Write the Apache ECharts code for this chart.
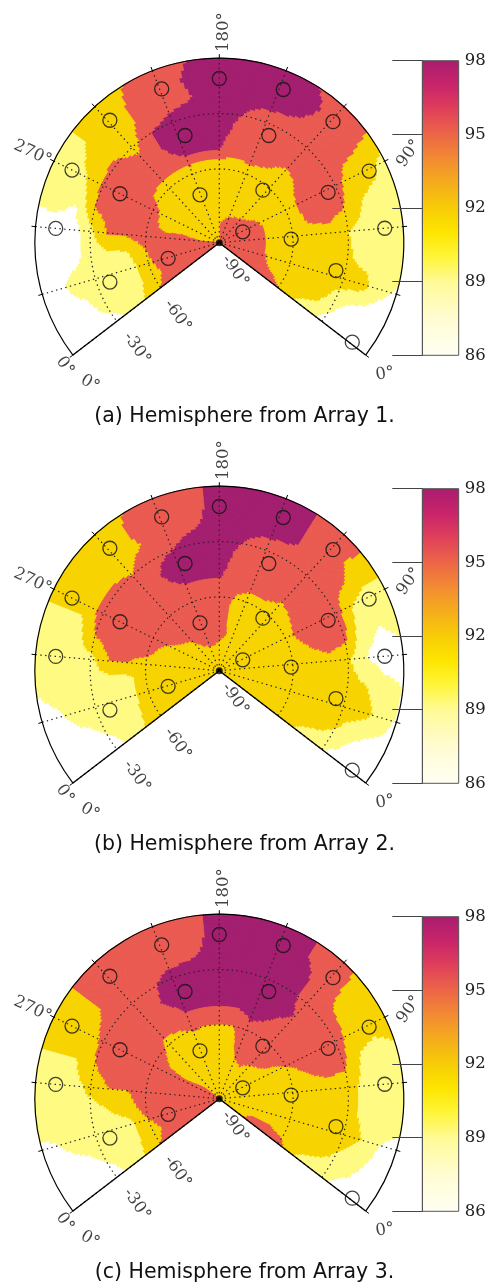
<!DOCTYPE html>
<html><head><meta charset="utf-8">
<script src="https://cdn.jsdelivr.net/npm/echarts@6/dist/echarts.min.js"></script>
<style>html,body{margin:0;padding:0;background:#fff}#c{width:489px;height:1288px}</style>
</head><body><div id="c"></div>
<script>
// ---------------- data ----------------
const AZ_NODES = [0,15,30,45,60,75,90,105,120,135,150,165,180,195,210,225,240,255,270,285,300,315,330,345,360];
const EL_NODES = [0,-10,-20,-30,-40,-50,-60,-70,-80,-90,-100];

const GRID_A = [
 [87.5,87.5,88.5,90.5,90.5,90.5,90.5,95,96.5,97,97.5,97.5,97.5,97,96.5,95,93.5,92,90.5,90,87.5,87.5,87.5,87.5,87.5],
 [87.5,87.5,90,90.5,90.5,90.5,93,95.5,96.5,97.5,97.5,97.5,97.5,97.2,96.5,95.5,93.5,92,90.5,90.5,87.5,87.5,88,87.5,87.5],
 [87.5,88,93.5,90.5,90.5,92,93.5,96,96.5,97,97.5,97.5,97.5,97,96.5,95.5,93.5,93.5,92,89,87.5,87.5,90.5,88,87.5],
 [88,90,93.5,92.5,92,95,96,96.5,96.5,96.5,96,97,97.5,97.5,97.5,97,94,95.5,95.5,95,91,90.5,90.5,90.5,88],
 [90,93.5,93.5,93.5,94,96,96.5,96.5,96.5,96.5,96.5,96.5,97.5,97.5,97.5,97,96,96.5,96.5,96.5,95.5,91.5,90.5,90.5,90],
 [92,93.5,93.5,93.5,94,95.5,96,95,94,95.5,96.5,96,97,97,97,96.8,96.5,96.5,96.5,96.5,95.5,92,90.5,91,92],
 [95,93.5,93.5,93.5,93.5,93.5,93.5,93.5,93.5,93.5,93.5,93,93,93,93.5,93,93.5,94,96,96.5,96.5,95,94.5,93.5,95],
 [96.5,95,94,93.5,93.5,93.5,93.5,93.5,93.5,93.5,93.5,93.5,93.5,93.5,93.5,93.5,93.5,93.5,93.5,94,96,96.5,96.5,96.5,96.5],
 [96.5,96.5,96.5,96.5,96.5,96.5,96,95,94.5,94,93.5,93.5,93.5,93.5,93.5,93.5,93.5,93.5,93.5,94.5,96,96.5,96.5,96.5,96.5],
 [96.5,96.5,96.5,96.5,96.5,96.5,96.5,96.5,96.5,96.5,96.5,95.5,95,93.5,93.5,93.5,93.5,93.5,93.5,94,95,96.5,96.5,96.5,96.5],
 [96.5,96.5,96.5,96.5,96.5,96.5,96.5,96.5,96.5,96.5,96.5,95.5,95,93.5,93.5,93.5,93.5,93.5,93.5,94,95,96.5,96.5,96.5,96.5]
];
const GRID_B = [
 [87.5,87.5,88.5,89,87.5,90,90.5,94.5,96.5,97,97.5,97.5,97.5,96.5,96.5,95,93.5,93.5,93,90.5,90.5,89.5,87.5,87.5,87.5],
 [87.5,88,91.5,90,87.5,89,90.5,94,96.5,97,97.5,97.5,97.5,96.5,96.5,95.5,93.5,93.5,93,90.5,90.5,90.5,88.5,87.5,87.5],
 [87.5,89.5,93,92,89,90,92,96,96.5,97,97.5,97.5,97.5,96.8,96.5,95,93.5,93.5,93,90.5,90.5,90.5,90.5,88,87.5],
 [89,92,93.5,93,92.5,96,96.5,96.5,96.5,96.5,96,97,97.5,97.5,97,96.8,95,96,96.5,95,91,90.5,90.5,89.5,87.5],
 [90,93.5,93.5,93.5,94,96.5,96.5,96.5,96.5,96.5,96.5,96.5,97.5,97.5,97.5,97,96.5,96.5,96.5,96.5,95,90.5,90.5,90.5,90],
 [92,93.5,93.5,93.5,93.5,95,96.5,95.5,95,96.5,96.5,96.5,97,97,97,96.8,96.5,96.5,96.5,96.5,95,91,91,91.5,92],
 [93.5,93.5,93.5,93.5,93.5,93.5,94,93.5,93.5,93.5,93.5,95,96,96.5,96.5,96.5,96.5,96.5,96.5,96,94,93.5,93.5,93.5,93.5],
 [93.5,93.5,93.5,93.5,93.5,93.5,93.5,93.5,93.5,93.5,93.5,94.5,96.5,96.5,96.5,96.5,96.5,96.5,95,93.5,93.5,93.5,93.5,93.5,93.5],
 [93.5,93.5,93.5,93.5,93.5,93.5,93.5,93.5,93.5,93.5,93.5,95,96,96.5,96.5,96,95,94,93.5,93.5,93.5,93.5,93.5,93.5,93.5],
 [93.5,93.5,93.5,93.5,93.5,93.5,93.5,93.5,93.5,93.5,93.5,93.5,93.5,94,94,94,93.5,93.5,93.5,93.5,93.5,93.5,93.5,93.5,93.5],
 [93.5,93.5,93.5,93.5,93.5,93.5,93.5,93.5,93.5,93.5,93.5,93.5,93.5,93.5,93.5,93.5,93.5,93.5,93.5,93.5,93.5,93.5,93.5,93.5,93.5]
];
const GRID_C = [
 [87.5,87.5,88,90.5,90.5,91.5,93.5,93,96.5,97,97.5,97.5,97.5,96.5,96.5,96.5,96.5,95,93.5,92,90.5,90.5,88.5,87.5,87.5],
 [87.5,88,89,90.5,90.5,90,93.5,93.5,96.5,97,97.5,97.5,97.5,96.5,96.5,96.5,96.5,95,93.5,92,90.5,90.5,89,87.5,87.5],
 [88,90,92,91,90.5,91.5,93.5,94.5,96.5,97.5,97.5,97.5,97.5,96.8,96.5,96.5,96.5,95,93.5,92,90.5,90.5,90.5,88,87.5],
 [89.5,91.5,93.5,93,93.5,95.5,96.5,96.5,96.5,97.5,97.5,97.5,97.5,97.5,97.5,96.8,96.5,96.5,95.5,95,93,90.5,90.5,89.5,87.5],
 [90,93.5,93.5,93.5,93.5,96,96.5,96.5,97,97.5,97.5,97.5,97.5,97.5,97.5,97,96.5,96.5,96.5,96.5,95,92,90.5,90.5,90],
 [92,93.5,93.5,93.5,93.5,95,96.5,96.5,96.5,97,97.5,97,97,97,97,96.5,96.5,96.5,96.5,96.5,95,93.5,91,91.5,92],
 [96,94,93.5,93.5,93.5,93.5,95,96.5,96.5,96.5,96.5,95,95,95,95.2,94.5,94,96,96.5,96.5,96.5,96.5,95,93.5,95],
 [96.5,95,93.5,93.5,93.5,93.5,94,95.5,96.5,96.5,96.5,94,93.5,93.5,93.5,93.5,93.5,94,96,96.5,96.5,96.5,96.5,96.5,96.5],
 [96,95,93.5,93.5,93.5,93.5,93.5,93.5,94,95,94.5,93.5,93.5,93.5,93.5,93.5,93.5,93.5,95.5,96.5,96.5,96.5,96.5,96.5,96.5],
 [93.5,93.5,93.5,93.5,93.5,93.5,93.5,93.5,93.5,93.5,93.5,93.5,93.5,93.5,93.5,93.5,94.5,95,96.5,96.5,96.5,96.5,96.5,96.5,96.5],
 [93.5,93.5,93.5,93.5,93.5,93.5,93.5,93.5,93.5,93.5,93.5,93.5,93.5,93.5,93.5,93.5,94.5,95,96.5,96.5,96.5,96.5,96.5,96.5,96.5]
];

// measurement points (azimuth, elevation)
const PT_AZ = [180,148,119,89,60,1,209,239,270,300,335,205,145,270,88,34,211,124,88,57,331];
const PT_EL = [-11,-10,-10,-10,-10,-10,-11,-11,-11,-11,-37,-39,-36,-40,-35,-35,-72,-63,-86,-61,-71];

const LEVELS = [89, 92, 95, 97];
const AZ_TICK_VALUES = [0, 90, 180, 270, 360];
const AZ_TICK_TEXT = ['0°', '90°', '180°', '270°', '0°'];
const EL_TICK_VALUES = [-90, -60, -30, 0];
const EL_TICK_TEXT = ['-90°', '-60°', '-30°', '0°'];
const EL_RINGS = [-60, -30];
const AZ_EDGES = [0, 360];
const EL_MIN = -100, EL_MAX = 0;
const CBAR_MIN = 86, CBAR_MAX = 98, CBAR_STEP = 3;
const CAPTIONS = ['(a) Hemisphere from Array 1.', '(b) Hemisphere from Array 2.', '(c) Hemisphere from Array 3.'];

// ---------------- styles / layout ----------------
const LEVEL_COLORS = ['#ffffff', '#fefa82', '#f7d300', '#ea5a50', '#a31e6f'];
const CBAR_STOPS = [
  [98,'#a91d6f'],[97,'#c8246a'],[96,'#e0405a'],[95,'#ec6547'],[94,'#f28a32'],[93,'#f5ad1c'],
  [92,'#f7cc06'],[91,'#fde600'],[90,'#fff53a'],[89,'#fffa96'],[87.5,'#fffcd2'],[86,'#fffff4']
];
const PANEL_DY = 428;
const CX = 219.3, CY0 = 242.7, R = 184.5;
const SERIF = 'DejaVu Serif';
const AZ_LABEL_LAYOUT = [
  {rotate: 10, offset: [15.8, 22]},
  {rotate: 55, offset: [20.1, 15.5]},
  {rotate: 90, offset: [26, 4]},
  {rotate: -25, offset: [-22.7, 1.7]},
  {rotate: -55, offset: [4.4, 12.9]}
];
const EL_LABEL_LAYOUT = [
  {rotate: -55, offset: [31.4, -15]},
  {rotate: -55, offset: [32.7, 2.4]},
  {rotate: -55, offset: [33.5, -0.8]},
  {rotate: -30, offset: [28.9, 16.1]}
];
const DOT = [1.4, 3.4];

function colorOf(v) {
  let k = 0;
  while (k < LEVELS.length && v >= LEVELS[k]) k++;
  return LEVEL_COLORS[k];
}

const GRIDS = [GRID_A, GRID_B, GRID_C];
const NA = AZ_NODES.length, NE = EL_NODES.length;
const SA = 10, SR = 8;

const polar = [], angleAxis = [], radiusAxis = [], grid = [], xAxis = [], yAxis = [], series = [], title = [];

GRIDS.forEach((G, p) => {
  const cy = CY0 + p * PANEL_DY;
  polar.push({center: [CX, cy], radius: [0, R]});
  angleAxis.push({
    polarIndex: p, type: 'value', min: 0, max: 360, interval: 30,
    startAngle: -37.5, endAngle: 217.5, clockwise: false, z: 5,
    axisLine: {show: true, lineStyle: {color: '#000', width: 1.2}},
    axisTick: {show: true, inside: false, length: 4, lineStyle: {color: '#000', width: 1}},
    axisLabel: {show: false},
    splitLine: {show: true, lineStyle: {color: '#222', width: 1.2, type: DOT}}
  });
  radiusAxis.push({polarIndex: p, type: 'value', min: EL_MIN, max: EL_MAX, show: false,
    axisLine: {show: false}, axisTick: {show: false}, axisLabel: {show: false}, splitLine: {show: false}});

  // contour field
  const nodes = [];
  EL_NODES.forEach((e) => AZ_NODES.forEach((a) => nodes.push([e, a])));
  series.push({
    type: 'custom', coordinateSystem: 'polar', polarIndex: p, z: 2, silent: true, clip: false,
    data: nodes,
    renderItem: function (params, api) {
      const idx = params.dataIndex;
      const i = Math.floor(idx / NA), j = idx % NA;
      if (i >= NE - 1 || j >= NA - 1) return null;
      const v00 = G[i][j], v01 = G[i][j + 1], v10 = G[i + 1][j], v11 = G[i + 1][j + 1];
      const e0 = EL_NODES[i], e1 = EL_NODES[i + 1], a0 = AZ_NODES[j], a1 = AZ_NODES[j + 1];
      const children = [];
      for (let s = 0; s < SR; s++) {
        const fy = (s + 0.5) / SR;
        const eA = e0 + (e1 - e0) * s / SR, eB = e0 + (e1 - e0) * (s + 1) / SR;
        let runStart = 0, runColor = null;
        for (let t = 0; t <= SA; t++) {
          let c = null;
          if (t < SA) {
            const fx = (t + 0.5) / SA;
            const v = (1 - fx) * (1 - fy) * v00 + fx * (1 - fy) * v01 + (1 - fx) * fy * v10 + fx * fy * v11;
            c = colorOf(v);
          }
          if (t === SA || c !== runColor) {
            if (runColor !== null) {
              const pts = [];
              for (let k = runStart; k <= t; k++) pts.push(api.coord([eA, a0 + (a1 - a0) * k / SA]));
              for (let k = t; k >= runStart; k--) pts.push(api.coord([eB, a0 + (a1 - a0) * k / SA]));
              children.push({type: 'polygon', shape: {points: pts},
                style: {fill: runColor, stroke: runColor, lineWidth: 1}});
            }
            runStart = t; runColor = c;
          }
        }
      }
      return {type: 'group', children: children};
    }
  });

  // dotted elevation rings
  EL_RINGS.forEach((e) => {
    const pts = [];
    for (let a = 0; a <= 360; a += 5) pts.push([e, a]);
    series.push({type: 'line', coordinateSystem: 'polar', polarIndex: p, data: pts, showSymbol: false,
      silent: true, z: 6, clip: false, lineStyle: {color: '#222', width: 1.2, type: DOT}});
  });
  // wedge edges (solid), drawn through the polar scales
  series.push({type: 'custom', coordinateSystem: 'polar', polarIndex: p, z: 7, silent: true, clip: false,
    data: AZ_EDGES.map((a) => [EL_MAX, a]),
    renderItem: function (params, api) {
      const a = api.value(1);
      const p0 = api.coord([EL_MIN, a]), p1 = api.coord([EL_MAX, a]);
      return {type: 'line', shape: {x1: p0[0], y1: p0[1], x2: p1[0], y2: p1[1]},
        style: {stroke: '#000', lineWidth: 1.4}};
    }});
  // center dot
  series.push({type: 'scatter', coordinateSystem: 'polar', polarIndex: p, data: [[EL_MIN, 0]], clip: false,
    symbolSize: 7, itemStyle: {color: '#000'}, z: 8, silent: true});
  // measurement points
  series.push({type: 'scatter', coordinateSystem: 'polar', polarIndex: p, clip: false,
    data: PT_EL.map((e, k) => [e, PT_AZ[k]]), symbol: 'circle', symbolSize: 14, z: 8, silent: true,
    itemStyle: {color: 'rgba(0,0,0,0)', borderColor: '#111', borderWidth: 1.3}});
  // azimuth labels
  series.push({type: 'scatter', coordinateSystem: 'polar', polarIndex: p, z: 9, silent: true, clip: false,
    symbolSize: 1, itemStyle: {color: 'rgba(0,0,0,0)'},
    data: AZ_TICK_VALUES.map((a, k) => ({value: [EL_MAX, a],
      label: {show: true, position: 'inside', formatter: AZ_TICK_TEXT[k],
        rotate: AZ_LABEL_LAYOUT[k].rotate, offset: AZ_LABEL_LAYOUT[k].offset,
        fontFamily: SERIF, fontSize: 16.5, color: '#111'}}))});
  // elevation labels
  series.push({type: 'scatter', coordinateSystem: 'polar', polarIndex: p, z: 9, silent: true, clip: false,
    symbolSize: 1, itemStyle: {color: 'rgba(0,0,0,0)'},
    data: EL_TICK_VALUES.map((e, k) => ({value: [e, 360],
      label: {show: true, position: 'inside', formatter: EL_TICK_TEXT[k],
        rotate: EL_LABEL_LAYOUT[k].rotate, offset: EL_LABEL_LAYOUT[k].offset,
        fontFamily: SERIF, fontSize: 16.5, color: '#111'}}))});

  // colorbar
  grid.push({left: 422.3, top: 60.7 + p * PANEL_DY, width: 36.4, height: 294.6});
  xAxis.push({gridIndex: p, type: 'value', min: 0, max: 1, show: false});
  yAxis.push({gridIndex: p, type: 'value', min: CBAR_MIN, max: CBAR_MAX, interval: CBAR_STEP,
    position: 'right', z: 5,
    axisLine: {show: true, lineStyle: {color: '#555', width: 1}},
    axisTick: {show: true, inside: true, length: 30, lineStyle: {color: '#444', width: 1}},
    axisLabel: {fontFamily: SERIF, fontSize: 16.5, color: '#222', margin: 6},
    splitLine: {show: false}});
  series.push({type: 'custom', coordinateSystem: 'cartesian2d', xAxisIndex: p, yAxisIndex: p, z: 2, silent: true,
    data: [[0, CBAR_MIN]],
    renderItem: function (params, api) {
      const pTop = api.coord([0, CBAR_MAX]), pBot = api.coord([1, CBAR_MIN]);
      const stops = CBAR_STOPS.map((s) => ({offset: (CBAR_MAX - s[0]) / (CBAR_MAX - CBAR_MIN), color: s[1]}));
      return {type: 'rect', shape: {x: pTop[0], y: pTop[1], width: pBot[0] - pTop[0], height: pBot[1] - pTop[1]},
        style: {fill: new echarts.graphic.LinearGradient(0, 0, 0, 1, stops), stroke: '#555', lineWidth: 1}};
    }});

  title.push({text: CAPTIONS[p], left: 'center', top: 406 + p * PANEL_DY, padding: 0,
    textStyle: {fontFamily: 'DejaVu Sans', fontSize: 20.5, fontWeight: 'normal', color: '#111'}});
});

const chart = echarts.init(document.getElementById('c'), null, {renderer: 'canvas', width: 489, height: 1288});
chart.setOption({
  animation: false, backgroundColor: '#fff',
  title: title, polar: polar, angleAxis: angleAxis, radiusAxis: radiusAxis,
  grid: grid, xAxis: xAxis, yAxis: yAxis, series: series
});
</script></body></html>
